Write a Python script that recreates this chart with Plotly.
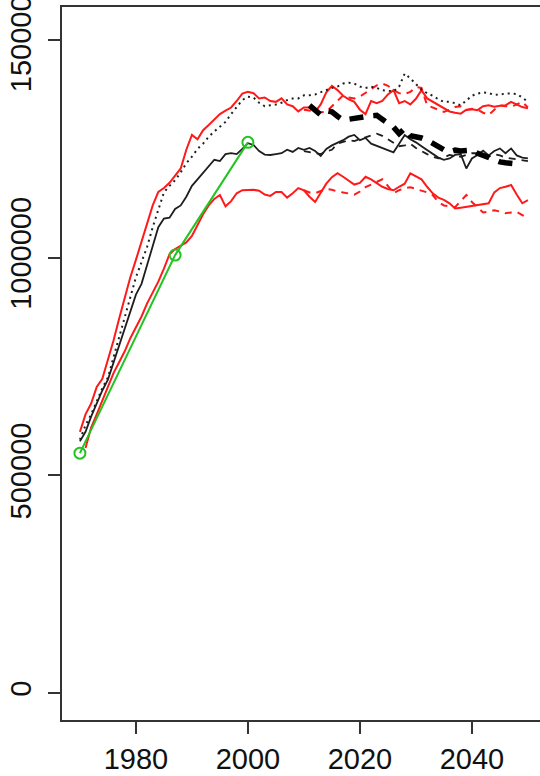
import plotly.graph_objects as go

years_full = list(range(1970, 2051))
years_proj = list(range(2010, 2051))
years_mean = list(range(2011, 2049))

red_upper = [600, 640, 665, 703, 722, 765, 810, 860, 910, 955,
             995, 1035, 1080, 1120, 1151, 1160, 1172, 1188, 1205, 1248,
             1282, 1272, 1293, 1305, 1318, 1330, 1338, 1345, 1360, 1377,
             1381, 1378, 1366, 1368, 1360, 1358, 1366, 1352, 1348, 1336,
             1345, 1345, 1335, 1352, 1380, 1395, 1385, 1372, 1364, 1358,
             1340, 1330, 1360, 1355, 1360, 1375, 1385, 1355, 1360, 1352,
             1365, 1385, 1366, 1358, 1350, 1342, 1336, 1333, 1331, 1340,
             1341, 1339, 1348, 1350, 1347, 1349, 1350, 1358, 1352, 1346, 1343]

black_dotted = [582, 615, 640, 670, 700, 725, 770, 815, 860, 910,
                955, 990, 1025, 1070, 1110, 1150, 1165, 1178, 1196, 1217,
                1232, 1250, 1262, 1278, 1290, 1300, 1312, 1330, 1345, 1362,
                1370, 1368, 1356, 1348, 1350, 1352, 1356, 1362, 1366, 1366,
                1373, 1373, 1375, 1380, 1386, 1390, 1393, 1400, 1402, 1400,
                1393, 1390, 1393, 1390, 1385, 1383, 1382, 1393, 1423, 1412,
                1400, 1386, 1378, 1372, 1364, 1358, 1358, 1355, 1350, 1360,
                1372, 1377, 1380, 1378, 1374, 1375, 1377, 1377, 1376, 1368, 1358]

black_solid = [578, 600, 635, 665, 695, 720, 760, 800, 840, 880,
               915, 940, 985, 1030, 1070, 1090, 1092, 1112, 1120, 1140,
               1165, 1180, 1195, 1209, 1225, 1222, 1238, 1240, 1238, 1250,
               1263, 1259, 1245, 1237, 1236, 1238, 1240, 1248, 1243, 1252,
               1248, 1252, 1245, 1234, 1250, 1258, 1264, 1270, 1278, 1282,
               1270, 1275, 1262, 1257, 1253, 1248, 1242, 1262, 1282, 1272,
               1265, 1256, 1248, 1240, 1230, 1225, 1228, 1236, 1238, 1205,
               1228, 1236, 1246, 1235, 1245, 1251, 1240, 1251, 1235, 1230, 1228]

red_lower = [None, 563, 610, 640, 673, 705, 735, 760, 785, 815,
             840, 865, 895, 920, 945, 975, 1008, 1020, 1028, 1035,
             1050, 1075, 1100, 1120, 1135, 1144, 1118, 1130, 1148, 1155,
             1155, 1156, 1154, 1145, 1142, 1151, 1151, 1138, 1148, 1160,
             1155, 1140, 1128, 1150, 1170, 1185, 1194, 1186, 1178, 1168,
             1172, 1186, 1180, 1172, 1163, 1158, 1155, 1163, 1170, 1194,
             1186, 1180, 1163, 1148, 1138, 1133, 1125, 1113, 1115, 1117,
             1119, 1121, 1123, 1125, 1150, 1160, 1163, 1167, 1145, 1125, 1132]

red_upper_dash = [1340, 1338, 1336, 1334, 1335, 1347, 1360, 1373, 1368, 1366,
                  1370, 1378, 1388, 1396, 1400, 1395, 1385, 1378, 1376, 1381,
                  1392, 1390, 1350, 1345, 1340, 1335, 1340, 1346, 1348, 1339,
                  1342, 1340, 1333, 1328, 1340, 1350, 1348, 1347, 1352, 1358, 1345]

black_dash = [1245, 1243, 1240, 1238, 1244, 1248, 1262, 1266, 1270, 1268,
              1272, 1276, 1280, 1285, 1280, 1272, 1262, 1256, 1258, 1262,
              1252, 1244, 1238, 1232, 1228, 1230, 1236, 1234, 1232, 1236,
              1240, 1240, 1236, 1232, 1238, 1235, 1230, 1228, 1226, 1225, 1222]

red_lower_dash = [1155, 1150, 1148, 1153, 1158, 1156, 1152, 1150, 1148, 1145,
                  1152, 1162, 1168, 1174, 1180, 1165, 1148, 1155, 1160, 1162,
                  1158, 1155, 1150, 1144, 1128, 1120, 1118, 1116, 1130, 1144,
                  1128, 1115, 1104, 1106, 1109, 1106, 1102, 1104, 1105, 1098, 1090]

thick_mean = [1350, 1340, 1328, 1338, 1335, 1325, 1316, 1318, 1320, 1324,
              1327, 1326, 1327, 1318, 1308, 1300, 1285, 1297, 1280, 1278,
              1275, 1270, 1262, 1255, 1248, 1243, 1247, 1245, 1246, 1247,
              1240, 1235, 1228, 1222, 1220, 1218, 1216, 1215]

census_years = [1970, 1987, 2000]
census_values = [551, 1006, 1265]

ytick_vals = [0, 500000, 1000000, 1500000]
ytick_text = ["0", "500000", "1000000", "1500000"]
xtick_vals = [1980, 2000, 2020, 2040]


def k(vals):
    return [None if v is None else v * 1000 for v in vals]


RED = "#ff1a1a"
BLK = "#1e1e1e"
GRN = "#22c422"

fig = go.Figure()
fig.add_trace(go.Scatter(x=years_proj, y=k(red_upper_dash), mode="lines",
                         line=dict(color=RED, width=2, dash="7px,6px")))
fig.add_trace(go.Scatter(x=years_proj, y=k(red_lower_dash), mode="lines",
                         line=dict(color=RED, width=2, dash="7px,6px")))
fig.add_trace(go.Scatter(x=years_full, y=k(red_upper), mode="lines",
                         line=dict(color=RED, width=2)))
fig.add_trace(go.Scatter(x=years_full, y=k(red_lower), mode="lines",
                         line=dict(color=RED, width=2)))
fig.add_trace(go.Scatter(x=years_full, y=k(black_dotted), mode="lines",
                         line=dict(color=BLK, width=2, dash="2px,4px")))
fig.add_trace(go.Scatter(x=years_proj, y=k(black_dash), mode="lines",
                         line=dict(color=BLK, width=1.8, dash="7px,6px")))
fig.add_trace(go.Scatter(x=years_full, y=k(black_solid), mode="lines",
                         line=dict(color=BLK, width=1.8)))
fig.add_trace(go.Scatter(x=years_mean, y=k(thick_mean), mode="lines",
                         line=dict(color="#000000", width=5.5, dash="14px,10px")))
fig.add_trace(go.Scatter(x=census_years, y=k(census_values), mode="lines+markers",
                         line=dict(color=GRN, width=2),
                         marker=dict(symbol="circle-open", size=11,
                                     color=GRN, line=dict(color=GRN, width=2))))

font = dict(family="Liberation Sans, Arial, sans-serif", size=29, color="#111")

fig.update_layout(
    width=540, height=776,
    margin=dict(l=62, r=0, t=7, b=56),
    paper_bgcolor="white", plot_bgcolor="white",
    showlegend=False,
    font=font,
    xaxis=dict(range=[1966.8, 2052.16], tickvals=xtick_vals,
               showgrid=False, zeroline=False, automargin=False,
               showline=True, linecolor="#333", linewidth=2, mirror=True,
               ticks="outside", ticklen=12, tickwidth=2, tickcolor="#333",
               ticklabeloverflow="allow", tickfont=font),
    yaxis=dict(range=[-62026, 1575925], tickvals=ytick_vals, ticktext=ytick_text,
               showgrid=False, zeroline=False, automargin=False,
               showline=True, linecolor="#333", linewidth=2,
               ticks="outside", ticklen=12, tickwidth=2, tickcolor="#333",
               tickangle=-90, ticklabelstandoff=5, ticklabeloverflow="allow",
               tickfont=font),
)

fig.write_html(
    "out.html",
    config={"displayModeBar": False},
    post_script="document.body.style.margin='0';document.body.style.overflow='hidden';",
)
